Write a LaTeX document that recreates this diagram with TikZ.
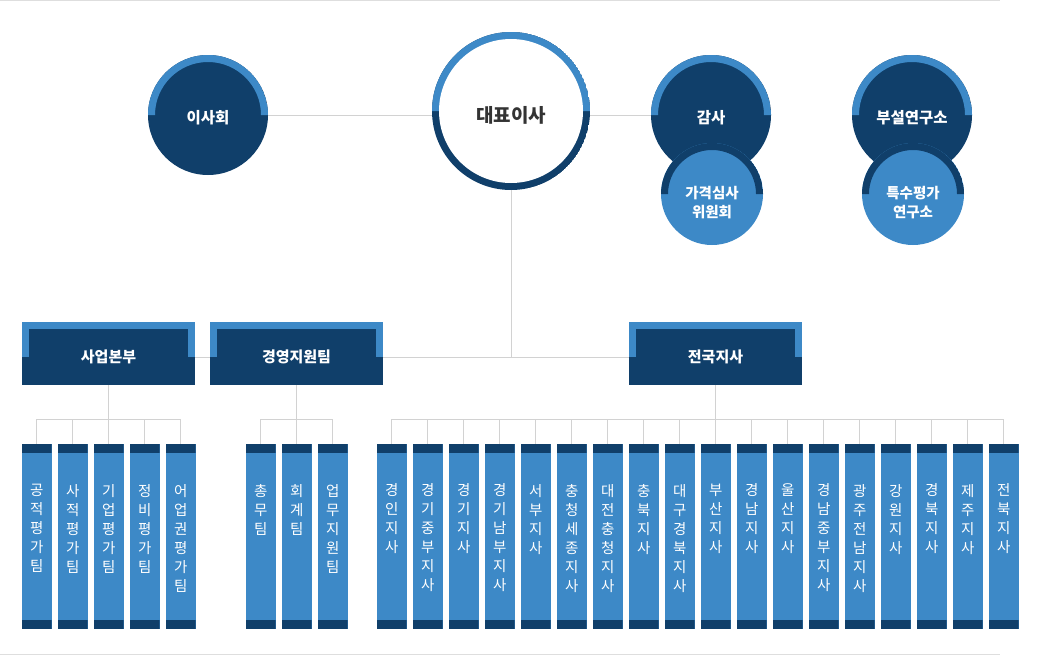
\documentclass[tikz,border=0pt]{standalone}
\usepackage{fontspec}
\setmainfont{Noto Sans CJK KR}
\usepackage{tikz}
\usetikzlibrary{calc}
\definecolor{navy}{RGB}{16,63,106}
\definecolor{sky}{RGB}{61,137,199}
\definecolor{wiregray}{RGB}{210,210,210}
\definecolor{rulegray}{RGB}{222,222,222}
\definecolor{ceogray}{RGB}{51,51,51}
\begin{document}
\begin{tikzpicture}[x=1pt,y=1pt,
wire/.style={draw=wiregray,line width=1pt},
headring/.style={circle,fill=white,minimum size=158pt,inner sep=0pt,
  text=ceogray,font=\bfseries\fontsize{19}{22}\selectfont,text height=22pt,text depth=0pt,
  path picture={
    \fill[navy] (path picture bounding box.center) circle[radius=79pt];
    \fill[sky] ([xshift=-79pt]path picture bounding box.center) arc[start angle=180,end angle=0,radius=79pt] -- cycle;
    \fill[white] (path picture bounding box.center) circle[radius=72pt];}},
topring/.style={circle,fill=navy,minimum size=120pt,inner sep=0pt,
  text=white,font=\bfseries\fontsize{15.5}{19}\selectfont,text height=17pt,text depth=0pt,
  path picture={
    \fill[sky] ([xshift=-60pt]path picture bounding box.center) arc[start angle=180,end angle=0,radius=60pt]
      -- ++(-7pt,0) arc[start angle=0,end angle=180,radius=53pt] -- cycle;}},
subring/.style={circle,fill=sky,minimum size=102pt,inner sep=0pt,
  path picture={
    \fill[navy] ([xshift=-51pt]path picture bounding box.center) arc[start angle=180,end angle=0,radius=51pt]
      -- ++(-7pt,0) arc[start angle=0,end angle=180,radius=44pt] -- cycle;}},
subtext/.style={align=center,text=white,inner sep=0pt,font=\bfseries\fontsize{14.5}{19}\selectfont},
dept/.style={rectangle,fill=navy,minimum width=173pt,minimum height=63pt,inner sep=0pt,
  text=white,font=\bfseries\fontsize{15}{18}\selectfont,text height=17pt,text depth=0pt,
  path picture={
    \fill[sky] (path picture bounding box.north west) rectangle ([yshift=-7pt]path picture bounding box.north east);
    \fill[sky] (path picture bounding box.north west) rectangle ([xshift=7pt,yshift=-3pt]path picture bounding box.west);
    \fill[sky] (path picture bounding box.north east) rectangle ([xshift=-7pt,yshift=-3pt]path picture bounding box.east);}},
team/.style={rectangle,fill=sky,minimum width=29.5pt,minimum height=185pt,inner sep=0pt,
  path picture={
    \fill[navy] (path picture bounding box.north west) rectangle ([yshift=-9pt]path picture bounding box.north east);
    \fill[navy] (path picture bounding box.south west) rectangle ([yshift=9pt]path picture bounding box.south east);}},
teamtext/.style={anchor=north,align=center,text=white,inner sep=0pt,font=\fontsize{14.5}{19}\selectfont}]
\useasboundingbox (0,0) rectangle (1040,-656);
\draw[rulegray,line width=1pt] (0,-0.5) -- (1000,-0.5);
\draw[rulegray,line width=1.5pt] (0,-654.5) -- (1000,-654.5);

\node[topring] (board) at (208,-115) {이사회};
\node[headring] (ceo) at (511,-111) {대표이사};
\node[topring] (audit) at (711,-115) {감사};
\node[topring] (lab) at (912,-115) {부설연구소};
\node[subring] (price) at (712,-194) {};
\node[subtext] (pricet) at (712,-203) {가격심사\\위원회};
\node[subring] (special) at (913,-194) {};
\node[subtext] (specialt) at (913,-203) {특수평가\\연구소};

\node[dept] (biz) at (108.5,-353.5) {사업본부};
\node[dept] (mgmt) at (296.5,-353.5) {경영지원팀};
\node[dept] (nat) at (715.5,-353.5) {전국지사};
\coordinate (hub) at (511,-357);

\draw[wire] (board.east) -- (board.east -| ceo.west);
\draw[wire] (audit.west) -- (audit.west -| ceo.east);
\draw[wire] (ceo.south) -- (hub);
\draw[wire] (biz.east |- hub) -- (mgmt.west |- hub);
\draw[wire] (mgmt.east |- hub) -- (nat.west |- hub);

% teams
\foreach \t [count=\i] in {{공\\적\\평\\가\\팀},{사\\적\\평\\가\\팀},{기\\업\\평\\가\\팀},
  {정\\비\\평\\가\\팀},{어\\업\\권\\평\\가\\팀}}{
  \draw[wire] (0.75+36*\i,-444) -- ++(0,25) -| (biz.south);
  \node[team] (biz\i) at (0.75+36*\i,-536.5) {};
  \node[teamtext] (bizt\i) at ([yshift=-40pt]biz\i.north) {\t};
}
\foreach \t [count=\i] in {{총\\무\\팀},{회\\계\\팀},{업\\무\\지\\원\\팀}}{
  \draw[wire] (224.75+36*\i,-444) -- ++(0,25) -| (mgmt.south);
  \node[team] (mgmt\i) at (224.75+36*\i,-536.5) {};
  \node[teamtext] (mgmtt\i) at ([yshift=-40pt]mgmt\i.north) {\t};
}
% branches
\foreach \t [count=\i] in {{경\\인\\지\\사},{경\\기\\중\\부\\지\\사},{경\\기\\지\\사},
  {경\\기\\남\\부\\지\\사},{서\\부\\지\\사},{충\\청\\세\\종\\지\\사},{대\\전\\충\\청\\지\\사},
  {충\\북\\지\\사},{대\\구\\경\\북\\지\\사},{부\\산\\지\\사},{경\\남\\지\\사},{울\\산\\지\\사},
  {경\\남\\중\\부\\지\\사},{광\\주\\전\\남\\지\\사},{강\\원\\지\\사},{경\\북\\지\\사},
  {제\\주\\지\\사},{전\\북\\지\\사}}{
  \draw[wire] (355.75+36*\i,-444) -- ++(0,25) -| (nat.south);
  \node[team] (br\i) at (355.75+36*\i,-536.5) {};
  \node[teamtext] (brt\i) at ([yshift=-40pt]br\i.north) {\t};
}
\end{tikzpicture}
\end{document}
